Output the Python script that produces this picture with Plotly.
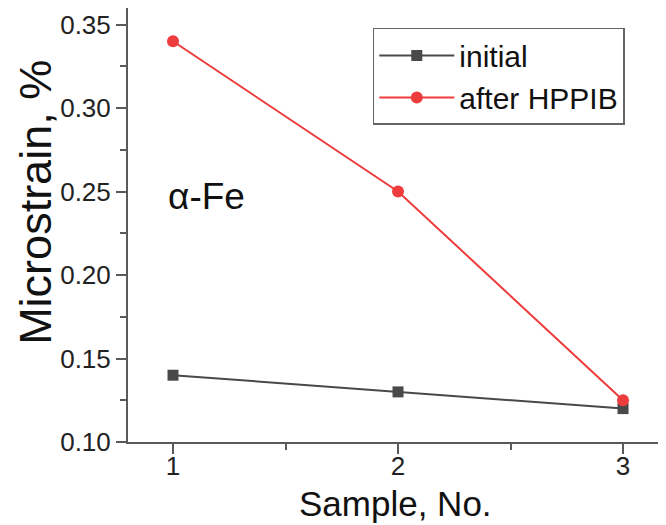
import plotly.graph_objects as go

samples = [1, 2, 3]
initial = [0.14, 0.13, 0.12]
after_hppib = [0.34, 0.25, 0.125]
x_ticks = [1, 2, 3]
y_ticks = [0.10, 0.15, 0.20, 0.25, 0.30, 0.35]
y_tick_labels = ["0.10", "0.15", "0.20", "0.25", "0.30", "0.35"]

FONT = "Liberation Sans, Arial, sans-serif"
GREY = "#494949"
RED = "#ee3b3b"
AX = "#5a5a5a"

fig = go.Figure()
fig.add_trace(go.Scatter(
    x=samples, y=initial, name="initial", mode="lines+markers",
    line=dict(color=GREY, width=2),
    marker=dict(symbol="square", size=11, color=GREY),
))
fig.add_trace(go.Scatter(
    x=samples, y=after_hppib, name="after HPPIB", mode="lines+markers",
    line=dict(color=RED, width=2),
    marker=dict(symbol="circle", size=12, color=RED),
))

fig.add_annotation(
    x=0.07, y=0.565, xref="paper", yref="paper", text="α-Fe", showarrow=False,
    xanchor="left", yanchor="middle",
    font=dict(family=FONT, size=37, color="#111111"),
)
# axis titles placed as annotations to match the reference positions
fig.add_annotation(
    x=-0.171, y=0.551, xref="paper", yref="paper", text="Microstrain, %", showarrow=False,
    textangle=-90, xanchor="center", yanchor="middle",
    font=dict(family=FONT, size=45, color="#111111"),
)
fig.add_annotation(
    x=0.498, y=-0.1406, xref="paper", yref="paper", text="Sample, No.", showarrow=False,
    xanchor="center", yanchor="middle",
    font=dict(family=FONT, size=35, color="#111111"),
)

fig.update_layout(
    width=666, height=525,
    margin=dict(l=120, r=8, t=0, b=91, autoexpand=False),
    plot_bgcolor="white", paper_bgcolor="white",
    font=dict(family=FONT, color="#222222"),
    showlegend=True,
    legend=dict(
        x=0.455, y=0.954, xanchor="left", yanchor="top",
        bordercolor="#666666", borderwidth=1.5, bgcolor="white",
        font=dict(family=FONT, size=30, color="#111111"),
        itemwidth=75, tracegroupgap=0,
    ),
)
fig.update_xaxes(
    range=[0.8, 3.191], tickvals=x_ticks, ticktext=[str(v) for v in x_ticks],
    automargin=False,
    showline=True, linecolor=AX, linewidth=2, mirror=False,
    ticks="outside", ticklen=10, tickwidth=1.5, tickcolor=AX,
    minor=dict(ticks="outside", dtick=0.5, tick0=1, ticklen=6, tickwidth=1.5, tickcolor=AX),
    showgrid=False, zeroline=False,
    tickfont=dict(family=FONT, size=26, color="#222222"),
    ticklabelstandoff=-10,
)
fig.update_yaxes(
    range=[0.10, 0.3599], tickvals=y_ticks, ticktext=y_tick_labels,
    automargin=False,
    showline=True, linecolor=AX, linewidth=2, mirror=False,
    ticks="outside", ticklen=10, tickwidth=1.5, tickcolor=AX,
    minor=dict(ticks="outside", dtick=0.025, tick0=0.1, ticklen=6, tickwidth=1.5, tickcolor=AX),
    showgrid=False, zeroline=False,
    tickfont=dict(family=FONT, size=26, color="#222222"),
)

fig.write_html("out.html")
